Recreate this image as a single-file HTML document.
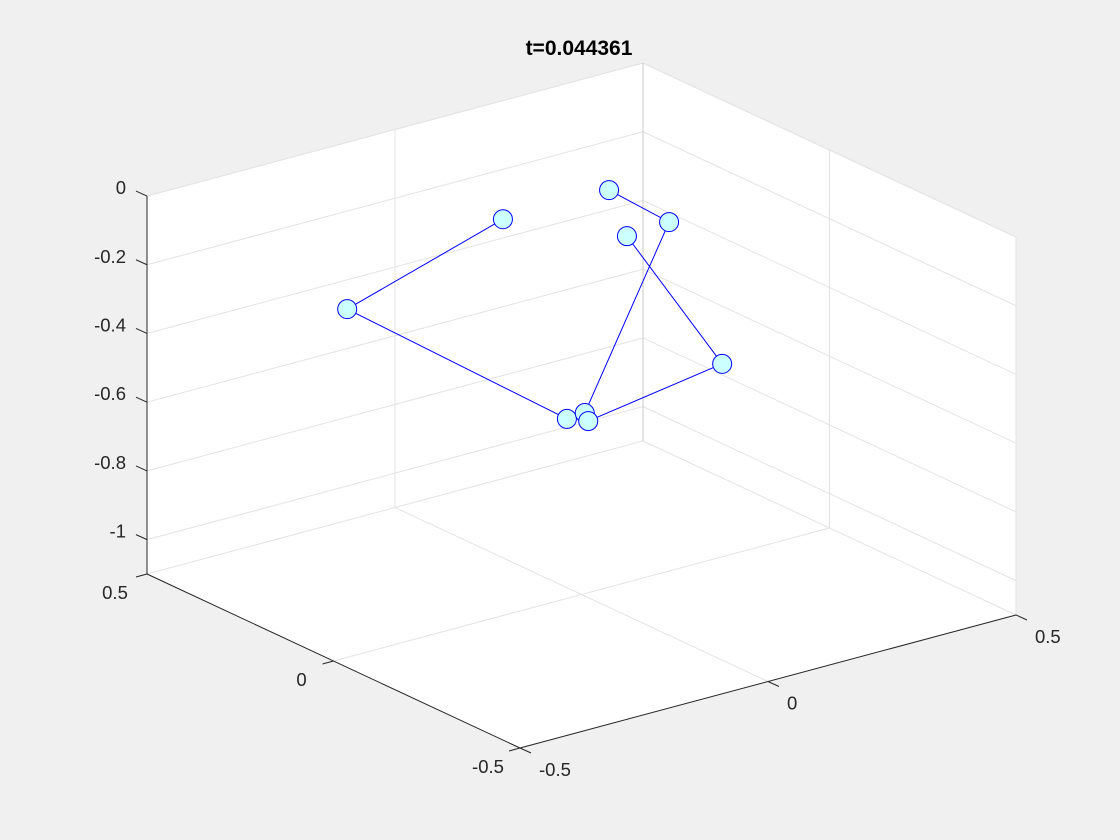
<!DOCTYPE html>
<html><head><meta charset="utf-8"><style>
html,body{margin:0;padding:0;background:#f0f0f0;}
svg{display:block;font-family:"Liberation Sans",Arial,sans-serif;}
</style></head><body>
<svg id="fig" width="1120" height="840" xmlns="http://www.w3.org/2000/svg">
<rect width="1120" height="840" fill="#f0f0f0"/>
<g id="axes"></g>
<text x="579" y="55" text-anchor="middle" font-size="21" font-weight="bold" fill="#000">t=0.044361</text>
</svg>
<script>
const xTicks = [-0.5, 0, 0.5];
const yTicks = [-0.5, 0, 0.5];
const zTicks = [0, -0.2, -0.4, -0.6, -0.8, -1];
const xTickLabels = ["-0.5", "0", "0.5"];
const yTickLabels = ["-0.5", "0", "0.5"];
const zTickLabels = ["0", "-0.2", "-0.4", "-0.6", "-0.8", "-1"];
// chain A
const lineAX = [-0.008, -0.322, 0.121, 0.157, 0.327, 0.206];
const lineAY = [0.2, 0.2, 0.2, 0.2, 0.2, 0.2];
const lineAZ = [-0.106, -0.246, -0.737, -0.734, -0.244, -0.104];
// chain B
const lineBX = [0.164, 0.434, 0.242];
const lineBY = [0.2, 0.2, 0.2];
const lineBZ = [-0.760, -0.698, -0.252];

const XMIN=-0.5,XMAX=0.5,YMIN=-0.5,YMAX=0.5,ZMIN=-1.1,ZMAX=0;
function P(x,y,z){
  const fx=520,fy=748;
  const sx=fx+496*(x-XMIN)-373*(y-YMIN);
  const sy=fy-133*(x-XMIN)-174*(y-YMIN)-343.6*(z-ZMIN);
  return [sx,sy];
}
const NS="http://www.w3.org/2000/svg";
const g=document.getElementById('axes');
function mk(tag,attrs){const e=document.createElementNS(NS,tag);for(const k in attrs)e.setAttribute(k,attrs[k]);g.appendChild(e);return e;}
function seg(a,b,stroke,w){return mk('line',{x1:a[0],y1:a[1],x2:b[0],y2:b[1],stroke:stroke,'stroke-width':w});}

const hex=[P(XMIN,YMAX,ZMAX),P(XMAX,YMAX,ZMAX),P(XMAX,YMIN,ZMAX),P(XMAX,YMIN,ZMIN),P(XMIN,YMIN,ZMIN),P(XMIN,YMAX,ZMIN)];
const bg=mk('polygon',{points:hex.map(p=>p.join(',')).join(' '),fill:'#fff',stroke:'#e6e6e6','stroke-width':1});



const GC='#e3e3e3';
xTicks.forEach(x=>{const l=seg(P(x,YMAX,ZMIN),P(x,YMAX,ZMAX),GC,1);
  const f=seg(P(x,YMIN,ZMIN),P(x,YMAX,ZMIN),GC,1);});
yTicks.forEach(y=>{const l=seg(P(XMAX,y,ZMIN),P(XMAX,y,ZMAX),GC,1);
  const f=seg(P(XMIN,y,ZMIN),P(XMAX,y,ZMIN),GC,1);});
zTicks.forEach(z=>{const a=seg(P(XMIN,YMAX,z),P(XMAX,YMAX,z),GC,1);
  const b=seg(P(XMAX,YMAX,z),P(XMAX,YMIN,z),GC,1);});
const bv=seg(P(XMAX,YMAX,ZMIN),P(XMAX,YMAX,ZMAX),'#c8c8c8',1);



const AC='#262626';
const za=seg(P(XMIN,YMAX,ZMIN),P(XMIN,YMAX,ZMAX),AC,1);


const ya=seg(P(XMIN,YMAX,ZMIN),P(XMIN,YMIN,ZMIN),AC,1);


const xa=seg(P(XMIN,YMIN,ZMIN),P(XMAX,YMIN,ZMIN),AC,1);



function txt(s,x,y,anchor,name){const t=mk('text',{x:x,y:y,'text-anchor':anchor,'font-size':18.5,fill:'#262626'});t.textContent=s;return t;}
zTicks.forEach((z,i)=>{const p=P(XMIN,YMAX,z);const tk=seg(p,[p[0]-11,p[1]-5],AC,1);
  txt(zTickLabels[i],p[0]-21,p[1]-2,'end','z-tick-label');});
yTicks.forEach((y,i)=>{const p=P(XMIN,y,ZMIN);const tk=seg(p,[p[0]-11,p[1]+3],AC,1);
  txt(yTickLabels[i],p[0]-32,p[1]+25,'middle','y-tick-label');});
xTicks.forEach((x,i)=>{const p=P(x,YMIN,ZMIN);const tk=seg(p,[p[0]+11,p[1]+5],AC,1);
  txt(xTickLabels[i],p[0]+19,p[1]+28,'start','x-tick-label');});

function drawChain(X,Y,Z,name){
  const pts=X.map((x,i)=>P(x,Y[i],Z[i]));
  const pl=mk('polyline',{points:pts.map(p=>p.join(',')).join(' '),fill:'none',stroke:'#0000ff','stroke-width':1});
  
  
  pts.forEach(p=>{
    const c=mk('circle',{cx:p[0],cy:p[1],r:9.5,fill:'#ccffff',stroke:'#0000ff','stroke-width':1});
    
    
  });
}
drawChain(lineAX,lineAY,lineAZ,'chain-a');
drawChain(lineBX,lineBY,lineBZ,'chain-b');
</script>
</body></html>
